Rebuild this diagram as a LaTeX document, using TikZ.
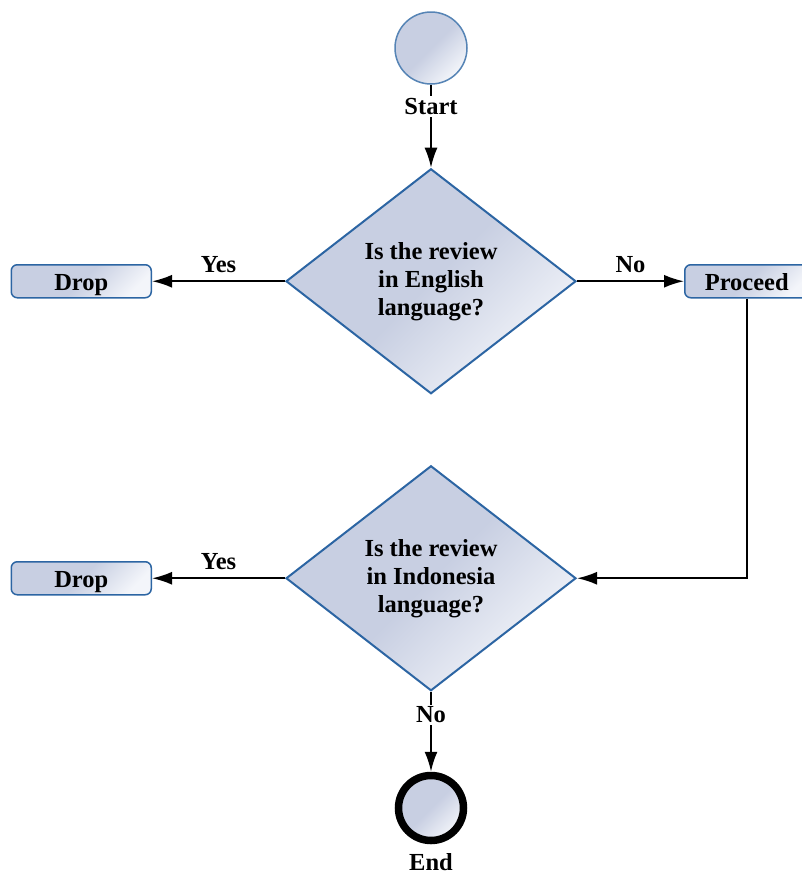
\documentclass[tikz,border=0pt]{standalone}
\usepackage{fontspec}
\setmainfont{Liberation Serif}
\usepackage{tikz}
\usetikzlibrary{positioning,shapes,arrows}
\usetikzlibrary{arrows.meta}
\definecolor{flowfill}{HTML}{C8CFE2}
\definecolor{flowlight}{HTML}{F3F5FA}
\definecolor{flowline}{HTML}{2C65A3}
\tikzstyle{flowshade}=[top color=flowfill, bottom color=flowlight, middle color=flowfill, shading angle=45]
\tikzstyle{flowtext}=[font=\bfseries\fontsize{24.5}{28}\selectfont, text=black]
\tikzstyle{decision}=[diamond, draw=flowline, line width=2pt, flowshade, flowtext, minimum width=290pt, minimum height=225pt, inner sep=0pt, aspect=1.29, align=center]
\tikzstyle{action}=[rectangle, rounded corners=6pt, draw=flowline, line width=1.5pt, flowshade, flowtext, minimum width=140pt, minimum height=33pt, inner sep=0pt, text height=20pt, text depth=2pt]
\tikzstyle{state}=[circle, draw=flowline!80, line width=1.5pt, flowshade, minimum size=72pt, inner sep=0pt]
\tikzstyle{stop}=[circle, draw=black, line width=7.5pt, flowshade, minimum size=65pt, inner sep=0pt]
\tikzstyle{lbl}=[flowtext, inner sep=2pt]
\tikzstyle{link}=[->, line width=2pt, black]
\tikzset{>={Latex[length=20pt,width=13pt]}}

\begin{document}
\begin{tikzpicture}[x=1pt, y=1pt]

    \useasboundingbox (0,0) rectangle (801,-876);

    \node(start)[state] at (431,-48) {};
    \node(ask1)[decision, below=83pt of start]{Is the review\\in English\\language?};
    \node(drop1)[action, left=133pt of ask1]{Drop};
    \node(proceed)[action, minimum width=124pt, right=107pt of ask1]{Proceed};

    \node(ask2)[decision, below=70pt of ask1]{Is the review\\in Indonesia\\language?};
    \node(drop2)[action, left=133pt of ask2]{Drop};

    \node(end)[stop, below=80pt of ask2]{};
    \node(endText)[lbl, inner sep=0pt, below=9pt of end]{End};

    \draw [link] (start) -- node(startText)[lbl, fill=white, pos=0.26]{Start} (ask1);
    \draw [link] (ask1) -- node(yes1)[lbl, above=6pt]{Yes} (drop1);
    \draw [link] (ask1) -- node(no1)[lbl, above=6pt]{No} (proceed);
    \draw [link] (proceed) |- (ask2);
    \draw [link] (ask2) -- node(yes2)[lbl, above=6pt]{Yes} (drop2);
    \draw [link] (ask2) -- node(no2)[lbl, fill=white, pos=0.29]{No} (end);

\end{tikzpicture}
\end{document}
